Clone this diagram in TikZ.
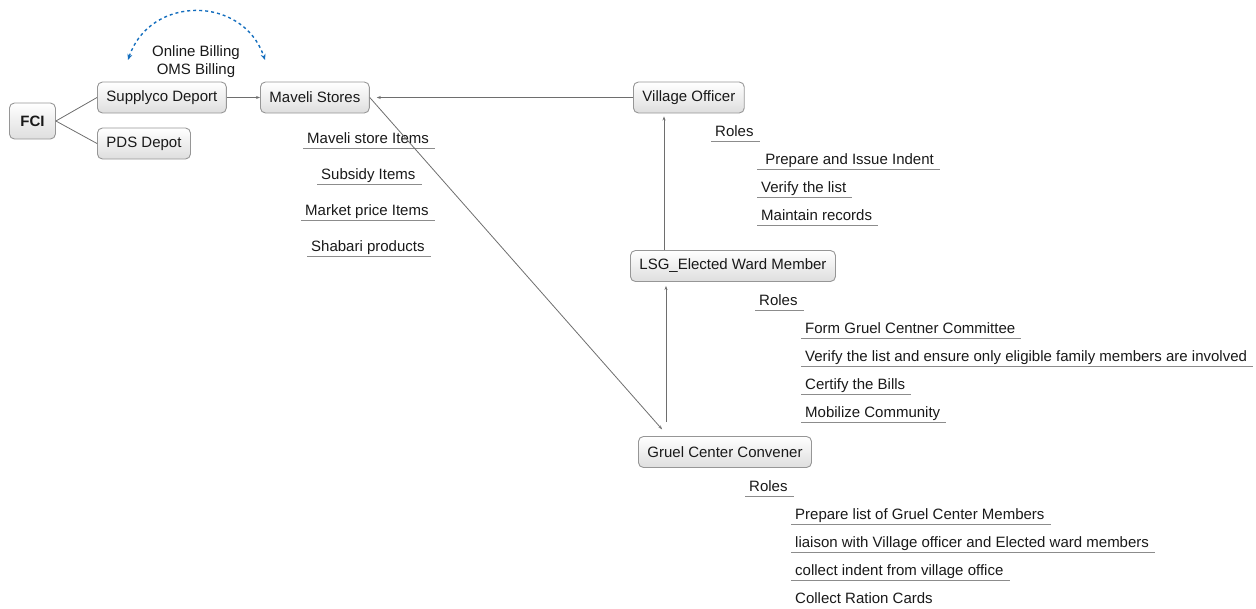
\documentclass[tikz,border=0pt]{standalone}
\usepackage{fontspec}
\setmainfont{Liberation Sans}
\usetikzlibrary{arrows.meta,calc}
\definecolor{boxline}{RGB}{150,150,150}
\definecolor{boxbot}{RGB}{222,222,222}
\definecolor{ulgray}{RGB}{140,140,140}
\definecolor{conngray}{RGB}{110,110,110}
\definecolor{txt}{RGB}{25,25,25}
\definecolor{arcblue}{RGB}{20,110,190}
\begin{document}
\begin{tikzpicture}[x=1pt,y=-1pt,
  every node/.style={font=\fontsize{15}{18}\selectfont, text=txt},
  box/.style={draw=boxline, line width=0.9pt, rounded corners=5pt, top color=white, bottom color=boxbot,
    inner xsep=9pt, inner ysep=0pt, minimum height=31pt, anchor=west},
  ul/.style={anchor=south west, inner xsep=4pt, inner ysep=1pt, text height=11pt, text depth=3pt,
    append after command={(\tikzlastnode.south west) edge[draw=ulgray, line width=1pt] ([xshift=2pt]\tikzlastnode.south east)}},
  plain/.style={anchor=south west, inner xsep=4pt, inner ysep=1pt, text height=11pt, text depth=3pt},
  conn/.style={draw=conngray, line width=0.8pt},
  tip/.style={-{Stealth[length=4pt,width=3pt]}},
  billarc/.style={draw=arcblue, line width=1.4pt, dash pattern=on 3pt off 3pt,
    {Stealth[length=6pt,width=5pt]}-{Stealth[length=6pt,width=5pt]}}
]
\useasboundingbox (0,0) rectangle (1256,608);

% boxes
\node[box, minimum width=46pt, minimum height=36pt, inner xsep=0pt, font=\fontsize{15}{18}\selectfont\bfseries] (fci) at (9,121) {FCI};
\node[box] (sup) at (97,97.5) {Supplyco Deport};
\node[box] (pds) at (97,143.5) {PDS Depot};
\node[box] (mav) at (260,97.5) {Maveli Stores};
\node[box] (vo)  at (633,97.5) {Village Officer};
\node[box] (lsg) at (630,266) {LSG\_Elected Ward Member};
\node[box] (gru) at (638,452) {Gruel Center Convener};

% billing labels
\node (bill1) at (196,53) {Online Billing};
\node (bill2) at (196,71) {OMS Billing};
\coordinate (arcA) at (128,60);
\coordinate (arcB) at (265,60);
\draw[billarc] (arcA) .. controls (150,-5) and (243,-5) .. (arcB);

% Maveli items
\node[ul] (m1) at (303,148) {Maveli store Items};
\node[ul] (m2) at (317,184) {Subsidy Items};
\node[ul] (m3) at (301,220) {Market price Items};
\node[ul] (m4) at (307,256) {Shabari products};

% Village officer roles
\node[ul] (vr) at (711,141) {Roles};
\node[ul] (v1) at (757,169) {~Prepare and Issue Indent};
\node[ul] (v2) at (757,197) {Verify the list};
\node[ul] (v3) at (757,225) {Maintain records};

% LSG roles
\node[ul] (lr) at (755,310) {Roles};
\node[ul] (l1) at (801,338) {Form Gruel Centner Committee};
\node[ul] (l2) at (801,366) {Verify the list and ensure only eligible family members are involved};
\node[ul] (l3) at (801,394) {Certify the Bills};
\node[ul] (l4) at (801,422) {Mobilize Community};

% Gruel roles
\node[ul] (gr) at (745,496) {Roles};
\node[ul] (g1) at (791,524) {Prepare list of Gruel Center Members};
\node[ul] (g2) at (791,552) {liaison with Village officer and Elected ward members};
\node[ul] (g3) at (791,580) {collect indent from village office};
\node[plain] (g4) at (791,608) {Collect Ration Cards};

% connectors
\draw[conn] (fci.east) -- (sup.west);
\draw[conn] (fci.east) -- (pds.west);
\draw[conn, tip] (sup.east) -- (mav.west);
\draw[conn, tip, shorten >=7pt] (vo.west) -- (mav.east);
\coordinate (gtop) at ($(gru.north west)+(30,0)$);
\draw[conn, tip, shorten >=9pt] (mav.east) -- (gtop);
\coordinate (gup) at ($(gru.north west)+(28,0)$);
\coordinate (lbot) at ($(lsg.south west)+(36,0)$);
\draw[conn, tip, shorten <=14pt, shorten >=4pt] (gup) -- (lbot);
\coordinate (ltop) at ($(lsg.north west)+(34,0)$);
\coordinate (vbot) at ($(vo.south west)+(31,0)$);
\draw[conn, tip, shorten >=3pt] (ltop) -- (vbot);
\end{tikzpicture}
\end{document}
